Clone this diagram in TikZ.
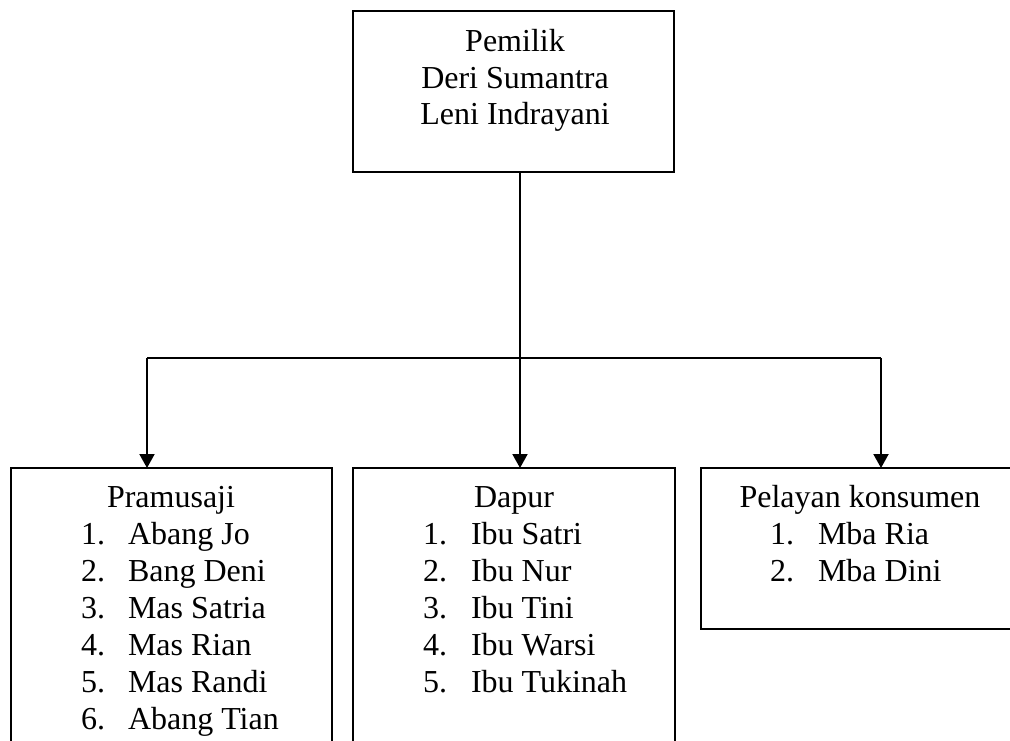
\documentclass[tikz,border=0pt]{standalone}
\usepackage{fontspec}
\setmainfont{Liberation Serif}
\usetikzlibrary{arrows.meta}
\begin{document}
\begin{tikzpicture}[x=1pt,y=-1pt,
  box/.style={draw=black,line width=1.5pt,inner sep=0pt,outer sep=0pt,anchor=north west},
  txt/.style={inner sep=0pt,outer sep=0pt,anchor=base,font=\fontsize{32pt}{37pt}\selectfont},
  item/.style={inner sep=0pt,outer sep=0pt,anchor=base west,font=\fontsize{32pt}{37pt}\selectfont},
  conn/.style={line width=2pt},
  arr/.style={line width=2pt,-{Triangle[width=15pt,length=14pt]}},
  stem/.style={line width=1.3pt}]
\useasboundingbox (0,0) rectangle (1010,741);
\clip (0,0) rectangle (1010,741);
% boxes
\node[box,minimum width=321pt,minimum height=161pt] (top) at (353,11) {};
\node[box,minimum width=321pt,minimum height=330pt] (pram) at (11,468) {};
\node[box,minimum width=322pt,minimum height=330pt] (dapur) at (353,468) {};
\node[box,minimum width=400pt,minimum height=161pt] (pel) at (701,468) {};
% top text
\node[txt] (t1) at (515,52) {Pemilik};
\node[txt] (t2) at (515,88.5) {Deri Sumantra};
\node[txt] (t3) at (515,125) {Leni Indrayani};
% Pramusaji
\node[txt] (ph) at (171,507) {Pramusaji};
\foreach \n/\name [count=\i from 0] in {1/Abang Jo,2/Bang Deni,3/Mas Satria,4/Mas Rian,5/Mas Randi,6/Abang Tian}{
  \node[item] (pn\n) at (81,544+37*\i) {\n.};
  \node[item] (pm\n) at (128,544+37*\i) {\name};
}
% Dapur
\node[txt] (dh) at (514,507) {Dapur};
\foreach \n/\name [count=\i from 0] in {1/Ibu Satri,2/Ibu Nur,3/Ibu Tini,4/Ibu Warsi,5/Ibu Tukinah}{
  \node[item] (dn\n) at (423,544+37*\i) {\n.};
  \node[item] (dm\n) at (471,544+37*\i) {\name};
}
% Pelayan konsumen
\node[txt] (kh) at (860,507) {Pelayan konsumen};
\foreach \n/\name [count=\i from 0] in {1/Mba Ria,2/Mba Dini}{
  \node[item] (kn\n) at (770,544+37.5*\i) {\n.};
  \node[item] (km\n) at (818,544+37.5*\i) {\name};
}
% connectors
\coordinate (j) at (520,358);
\coordinate (jl) at (147,358);
\coordinate (jr) at (881,358);
\draw[stem] (top.south -| j) -- (j);
\draw[conn] (jl) -- (jr);
\draw[arr] (j) -- (j |- dapur.north);
\draw[arr] (jl) -- (jl |- pram.north);
\draw[arr] (jr) -- (jr |- pel.north);
\end{tikzpicture}
\end{document}
